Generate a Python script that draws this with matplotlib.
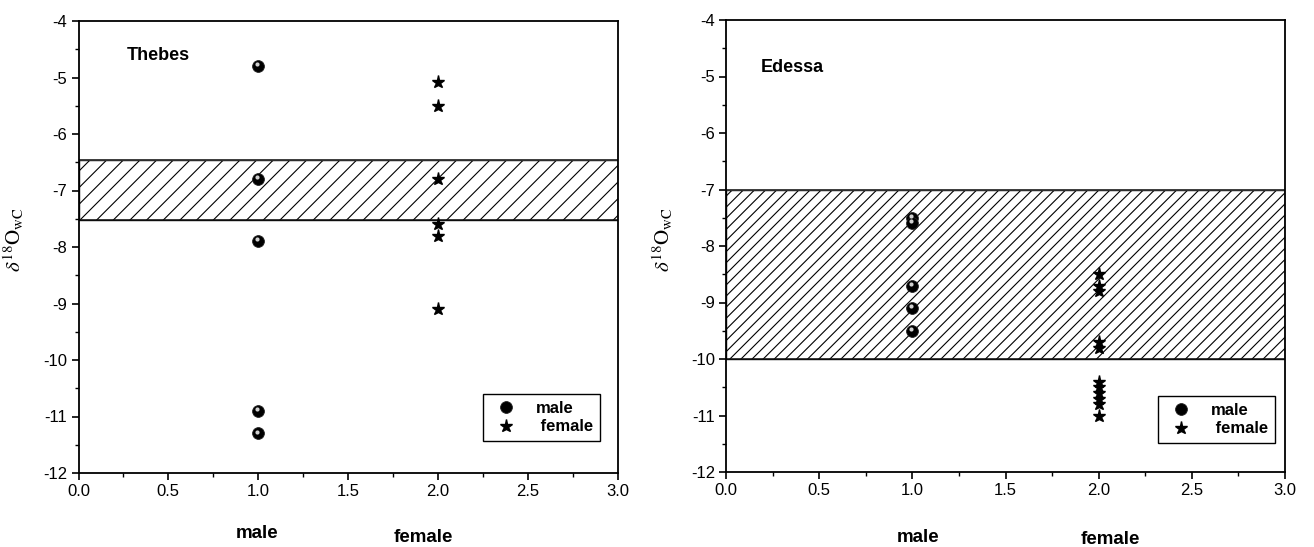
import matplotlib
matplotlib.use("Agg")
import matplotlib.pyplot as plt
import matplotlib.transforms as mtransforms
from matplotlib import font_manager

# ---------------- data ----------------
sites = ["Thebes", "Edessa"]
thebes_male = [-4.8, -6.8, -7.9, -10.9, -11.3]
thebes_female = [-5.08, -5.5, -6.8, -7.6, -7.8, -9.1]
edessa_male = [-7.5, -7.6, -8.7, -9.1, -9.5]
edessa_female = [-8.5, -8.7, -8.8, -9.7, -9.8, -10.4, -10.5, -10.6, -10.7, -10.8, -11.0]
male_x = 1.0
female_x = 2.0
thebes_band = (-7.52, -6.46)
edessa_band = (-10.0, -7.0)
group_labels = ["male", "female"]
legend_labels = ["male", " female"]

# -------------- fonts ------------------
names = {f.name for f in font_manager.fontManager.ttflist}
tick_family = ["Liberation Sans Narrow", "Liberation Sans", "DejaVu Sans"]
tick_family = [f for f in tick_family if f in names] or ["DejaVu Sans"]
plt.rcParams["font.family"] = tick_family
plt.rcParams["mathtext.fontset"] = "stix"
plt.rcParams["axes.unicode_minus"] = False
plt.rcParams["hatch.linewidth"] = 0.8

fig = plt.figure(figsize=(13.14, 5.47), dpi=100)
W, H = 1314, 547
ax_specs = [
    (78.5, 21, 617.5, 473),
    (726, 20, 1285, 472),
]
# legend boxes in pixels (x0, y0, x1, y1)
legend_boxes = [
    (483, 392, 600, 441),
    (1158, 394, 1273, 443),
]

def make_ax(spec):
    x0, y0, x1, y1 = spec
    return fig.add_axes([x0 / W, 1 - y1 / H, (x1 - x0) / W, (y1 - y0) / H])

datasets = [
    (thebes_male, thebes_female, thebes_band, sites[0], (127, 55), "//", 26),
    (edessa_male, edessa_female, edessa_band, sites[1], (761, 68), "///", 675),
]
group_label_pos = [
    [(257, 533), (423, 537)],
    [(918, 538), (1110, 540)],
]

for i, (spec, (m, f, band, name, tpx, hatch, ylpx)) in enumerate(zip(ax_specs, datasets)):
    ax = make_ax(spec)
    x0, y0, x1, y1 = spec
    ax.set_xlim(0, 3)
    ax.set_ylim(-12, -4)
    # hatched band
    ax.axhspan(band[0], band[1], facecolor="white", edgecolor="black",
               hatch=hatch, linewidth=1.0, zorder=1)
    ax.axhline(band[1], color="#333333", lw=1.3, zorder=2)
    ax.axhline(band[0], color="#111111", lw=1.1, zorder=2)

    mx = [male_x] * len(m)
    fx = [female_x] * len(f)
    hm, = ax.plot(mx, m, "o", ms=8.5, color="black", mec="#222222", mew=0.6,
                  ls="none", zorder=4)
    # highlight for sphere look
    off = mtransforms.ScaledTranslation(-1.2 / 72, 1.4 / 72, fig.dpi_scale_trans)
    ax.plot(mx, m, "o", ms=3.0, color="#d0d0d0", mec="none", ls="none",
            zorder=5, transform=ax.transData + off)
    hf, = ax.plot(fx, f, "*", ms=9.5, color="black", mec="black", ls="none",
                  zorder=4)

    ax.text((tpx[0] - x0) / (x1 - x0), (y1 - tpx[1]) / (y1 - y0), name,
            transform=ax.transAxes, fontsize=13, fontweight="bold",
            family=["Liberation Sans", "DejaVu Sans"], va="center", ha="left")

    ax.set_xticks([0.0, 0.5, 1.0, 1.5, 2.0, 2.5, 3.0])
    ax.set_xticklabels(["0.0", "0.5", "1.0", "1.5", "2.0", "2.5", "3.0"])
    ax.set_xticks([0.25, 0.75, 1.25, 1.75, 2.25, 2.75], minor=True)
    ax.set_yticks(range(-12, -3))
    ax.set_yticks([-11.5, -10.5, -9.5, -8.5, -7.5, -6.5, -5.5, -4.5], minor=True)
    ax.tick_params(which="major", direction="out", length=5, width=1.2,
                   labelsize=12, top=False, right=False, pad=3)
    ax.tick_params(which="minor", direction="out", length=3, width=1.0,
                   top=False, right=False)
    for s in ax.spines.values():
        s.set_linewidth(1.3)

    ax.set_ylabel(r"$\delta^{18}\mathrm{O}_{\mathrm{wC}}$", fontsize=15)
    ax.yaxis.set_label_coords((ylpx - x0) / (x1 - x0), (y1 - 240) / (y1 - y0))

    lb = legend_boxes[i]
    leg = ax.legend([hm, hf], legend_labels, loc="lower left",
                    bbox_to_anchor=((lb[0] - x0) / (x1 - x0), (y1 - lb[3]) / (y1 - y0)),
                    borderaxespad=0,
                    frameon=True, fancybox=False, shadow=False,
                    edgecolor="black", framealpha=1, borderpad=0.4,
                    handlelength=2.0, handletextpad=0.8, labelspacing=0.2,
                    prop={"family": ["Liberation Sans", "DejaVu Sans"],
                          "weight": "bold", "size": 12})
    leg.get_frame().set_linewidth(1.0)

    for lab, (px, py) in zip(group_labels, group_label_pos[i]):
        fig.text(px / W, 1 - py / H, lab, fontsize=13.5, fontweight="bold",
                 ha="center", va="center",
                 family=["Liberation Sans Narrow", "Liberation Sans", "DejaVu Sans"])

fig.savefig("out.png", dpi=100)
